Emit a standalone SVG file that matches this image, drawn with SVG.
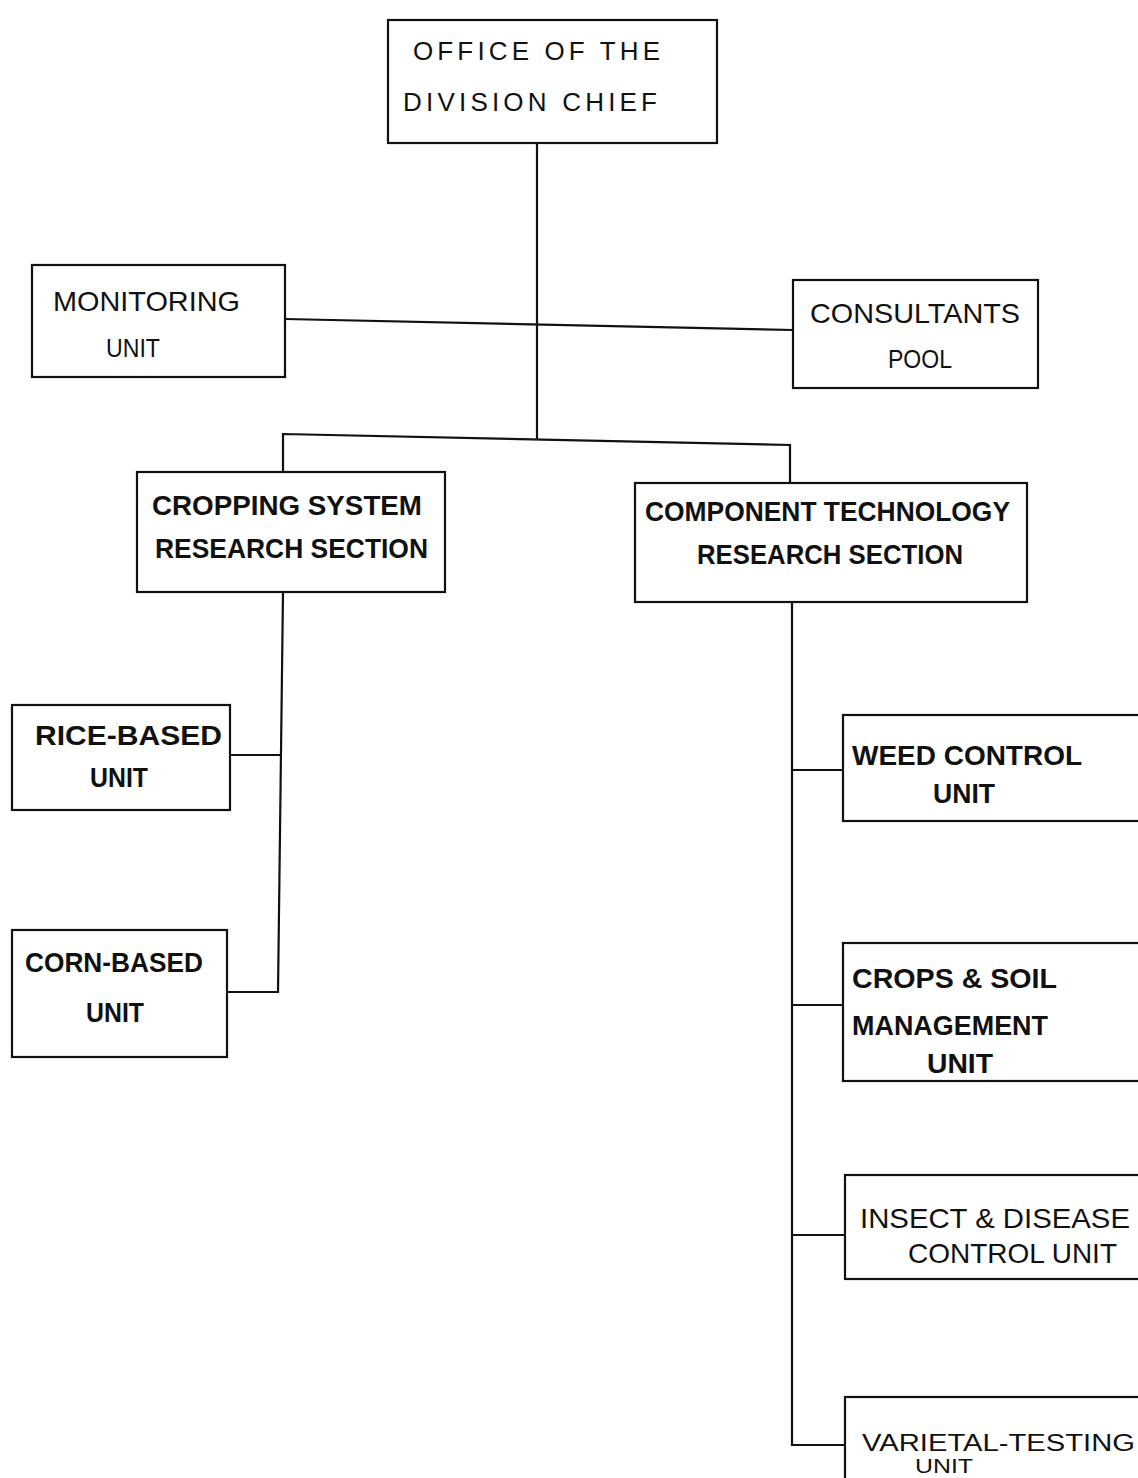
<svg xmlns="http://www.w3.org/2000/svg" width="1138" height="1478" viewBox="0 0 1138 1478">
<style>
.box{fill:#fff;stroke:#111;stroke-width:2.2}
.conn{fill:none;stroke:#111;stroke-width:2.2}
text{font-family:"Liberation Sans","DejaVu Sans",Arial,sans-serif;fill:#111;font-size:28px}
.b{font-weight:bold}
.t{font-size:26px}
.s{font-size:25px}
.v{font-size:23px}
.u{font-size:21px}
</style>
<rect width="1138" height="1478" fill="#fff"/>
<g id="connectors">
<path class="conn" d="M537,143 V440"/>
<path class="conn" d="M285,319 L793,330"/>
<path class="conn" d="M283,472 V434 L790,445 V483"/>
<path class="conn" d="M283,592 L278,993"/>
<path class="conn" d="M230,755 H280"/>
<path class="conn" d="M227,992 H279"/>
<path class="conn" d="M792,602 V1445 H845"/>
<path class="conn" d="M792,770 H843"/>
<path class="conn" d="M792,1005 H843"/>
<path class="conn" d="M792,1235 H845"/>
</g>
<g id="office">
<rect class="box" x="388" y="20" width="329" height="123"/>
<text class="t" x="413" y="60" textLength="247" lengthAdjust="spacing">OFFICE OF THE</text>
<text class="t" x="403" y="111" textLength="254" lengthAdjust="spacing">DIVISION  CHIEF</text>
</g>
<g id="monitoring">
<rect class="box" x="32" y="265" width="253" height="112"/>
<text x="53" y="311" textLength="187" lengthAdjust="spacingAndGlyphs">MONITORING</text>
<text class="s" x="106" y="357" textLength="54" lengthAdjust="spacingAndGlyphs">UNIT</text>
</g>
<g id="consultants">
<rect class="box" x="793" y="280" width="245" height="108"/>
<text x="810" y="323" textLength="210" lengthAdjust="spacingAndGlyphs">CONSULTANTS</text>
<text class="s" x="888" y="368" textLength="64" lengthAdjust="spacingAndGlyphs">POOL</text>
</g>
<g id="cropping">
<rect class="box" x="137" y="472" width="308" height="120"/>
<text class="b" x="152" y="515" textLength="270" lengthAdjust="spacingAndGlyphs">CROPPING SYSTEM</text>
<text class="b" x="155" y="558" textLength="273" lengthAdjust="spacingAndGlyphs">RESEARCH SECTION</text>
</g>
<g id="component">
<rect class="box" x="635" y="483" width="392" height="119"/>
<text class="b" x="645" y="521" textLength="365" lengthAdjust="spacingAndGlyphs">COMPONENT TECHNOLOGY</text>
<text class="b" x="697" y="564" textLength="266" lengthAdjust="spacingAndGlyphs">RESEARCH SECTION</text>
</g>
<g id="rice">
<rect class="box" x="12" y="705" width="218" height="105"/>
<text class="b" x="35" y="745" textLength="187" lengthAdjust="spacingAndGlyphs">RICE-BASED</text>
<text class="b" x="90" y="787" textLength="58" lengthAdjust="spacingAndGlyphs">UNIT</text>
</g>
<g id="corn">
<rect class="box" x="12" y="930" width="215" height="127"/>
<text class="b" x="25" y="972" textLength="178" lengthAdjust="spacingAndGlyphs">CORN-BASED</text>
<text class="b" x="86" y="1022" textLength="58" lengthAdjust="spacingAndGlyphs">UNIT</text>
</g>
<g id="weed">
<rect class="box" x="843" y="715" width="300" height="106"/>
<text class="b" x="852" y="765" textLength="230" lengthAdjust="spacingAndGlyphs">WEED CONTROL</text>
<text class="b" x="933" y="803" textLength="62" lengthAdjust="spacingAndGlyphs">UNIT</text>
</g>
<g id="crops">
<rect class="box" x="843" y="943" width="300" height="138"/>
<text class="b" x="852" y="988" textLength="205" lengthAdjust="spacingAndGlyphs">CROPS &amp; SOIL</text>
<text class="b" x="852" y="1035" textLength="196" lengthAdjust="spacingAndGlyphs">MANAGEMENT</text>
<text class="b" x="927" y="1073" textLength="66" lengthAdjust="spacingAndGlyphs">UNIT</text>
</g>
<g id="insect">
<rect class="box" x="845" y="1175" width="300" height="104"/>
<text x="860" y="1228" textLength="270" lengthAdjust="spacingAndGlyphs">INSECT &amp; DISEASE</text>
<text x="908" y="1263" textLength="209" lengthAdjust="spacingAndGlyphs">CONTROL UNIT</text>
</g>
<g id="varietal">
<rect class="box" x="845" y="1397" width="300" height="100"/>
<text class="v" x="862" y="1451" textLength="273" lengthAdjust="spacingAndGlyphs">VARIETAL-TESTING</text>
<text class="u" x="915" y="1473" textLength="58" lengthAdjust="spacingAndGlyphs">UNIT</text>
</g>
</svg>
